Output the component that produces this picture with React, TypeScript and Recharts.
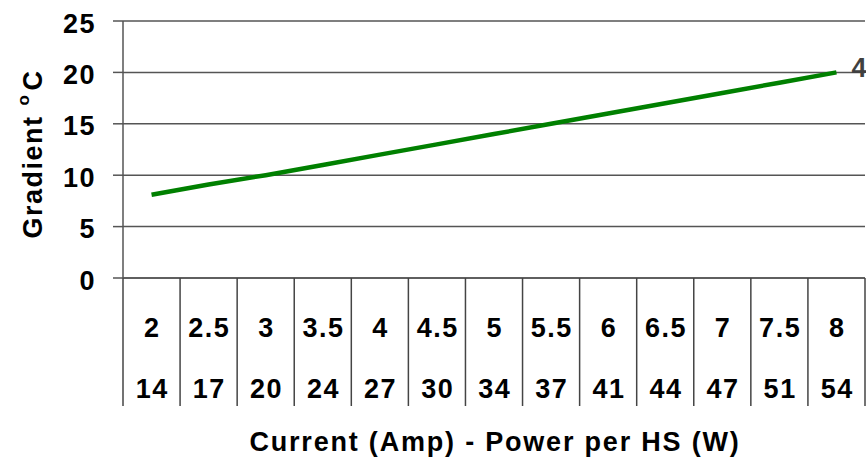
import { ComposedChart, Line, XAxis, YAxis, CartesianGrid, LabelList } from "recharts";

const currents = ["2", "2.5", "3", "3.5", "4", "4.5", "5", "5.5", "6", "6.5", "7", "7.5", "8"];
const powers = ["14", "17", "20", "24", "27", "30", "34", "37", "41", "44", "47", "51", "54"];
const gradient = [8.1, 9.1, 10.0, 11.0, 12.0, 13.0, 14.0, 15.0, 16.0, 17.0, 18.0, 19.0, 20.0];
const yTicks = [0, 5, 10, 15, 20, 25];
const seriesName = "4";

const data = currents.map((c, i) => ({ current: c, power: powers[i], gradient: gradient[i] }));

const W = 866;
const H = 463;
const LEFT = 123;
const RIGHT = 1;
const font = "'Liberation Sans', Arial, sans-serif";
const band = (W - LEFT - RIGHT) / data.length;

function CategoryTick(props: any) {
  const { x, y, index } = props;
  const d = data[index];
  const left = x - band / 2;
  const right = x + band / 2;
  return (
    <g>
      <line x1={left} y1={y} x2={left} y2={y + 128} stroke="#444" strokeWidth={1.5} />
      {index === data.length - 1 && (
        <line x1={right} y1={y} x2={right} y2={y + 128} stroke="#444" strokeWidth={1.5} />
      )}
      <text x={x + 0.75} y={y + 59} textAnchor="middle" fontFamily={font} fontWeight="bold" fontSize={27} letterSpacing={1.5} fill="#000">
        {d.current}
      </text>
      <text x={x + 0.75} y={y + 120} textAnchor="middle" fontFamily={font} fontWeight="bold" fontSize={27} letterSpacing={1.5} fill="#000">
        {d.power}
      </text>
    </g>
  );
}

export default function App() {
  return (
    <div style={{ position: "absolute", left: 0, top: 0, background: "#fff" }}>
      <ComposedChart width={W} height={H} data={data} margin={{ top: 21, right: RIGHT, left: 0, bottom: 0 }}>
        <CartesianGrid vertical={false} stroke="#555" strokeWidth={1.5} />
        <XAxis
          dataKey="current"
          scale="band"
          height={185}
          axisLine={{ stroke: "#555", strokeWidth: 1.5 }}
          tickLine={false}
          tickSize={0}
          tickMargin={0}
          interval={0}
          tick={<CategoryTick />}
          label={{
            content: (p: any) => {
              const vb = p.viewBox;
              return (
                <text x={vb.x + vb.width / 2 + 1} y={vb.y + 173} textAnchor="middle" fontFamily={font} fontWeight="bold" fontSize={27} letterSpacing={1.8} fill="#000">
                  Current (Amp) - Power per HS (W)
                </text>
              );
            },
          }}
        />
        <YAxis
          width={LEFT}
          domain={[0, 25]}
          ticks={yTicks}
          interval={0}
          tickSize={10}
          tickMargin={17}
          axisLine={{ stroke: "#555", strokeWidth: 1.5 }}
          tickLine={{ stroke: "#555", strokeWidth: 1.5 }}
          tick={{ fontFamily: font, fontWeight: "bold", fontSize: 27, fill: "#000", dy: 2, letterSpacing: 1.5 }}
          label={{
            content: () => (
              <text transform="translate(42,154) rotate(-90)" textAnchor="middle" fontFamily={font} fontWeight="bold" fontSize={27} letterSpacing={1.5} fill="#000">
                Gradient
                <tspan dx={10} dy={-13} fontSize={17}>o</tspan>
                <tspan dx={3} dy={13}>C</tspan>
              </text>
            ),
          }}
        />
        <Line
          dataKey="gradient"
          stroke="#008000"
          strokeWidth={4.5}
          dot={false}
          isAnimationActive={false}
        >
          <LabelList
            dataKey="gradient"
            content={(p: any) =>
              p.index === data.length - 1 ? (
                <text x={p.x + 15} y={p.y + 5} fontFamily={font} fontWeight="bold" fontSize={27} fill="#404040">
                  {seriesName}
                </text>
              ) : null
            }
          />
        </Line>
      </ComposedChart>
    </div>
  );
}
